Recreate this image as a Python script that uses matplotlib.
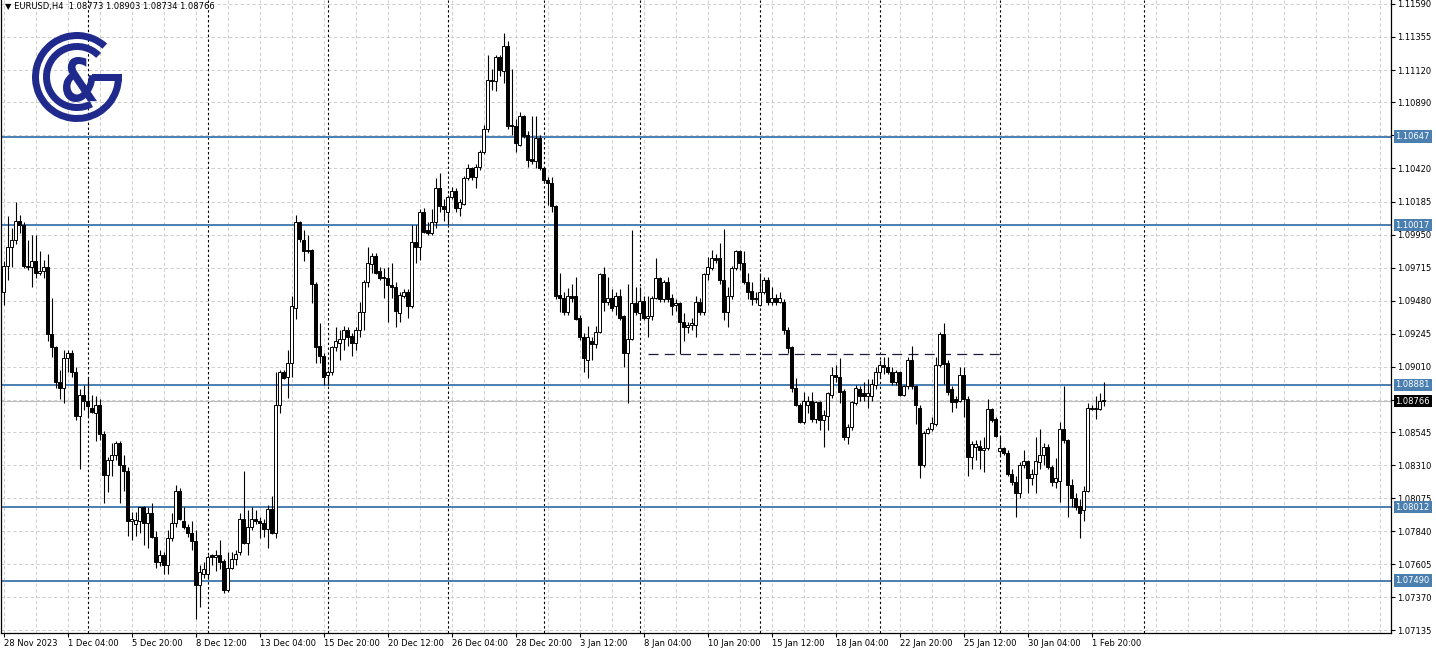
import matplotlib
matplotlib.use("Agg")
import matplotlib.pyplot as plt
import matplotlib.transforms as mtransforms
from matplotlib.patches import Wedge, Rectangle, PathPatch
from matplotlib.textpath import TextPath
from matplotlib.font_manager import FontProperties
from matplotlib.transforms import Affine2D

# EURUSD H4, 28 Nov 2023 12:00 .. 2 Feb 2024 08:00 (one entry per bar)
opens = [
    1.0954, 1.0973, 1.0986, 1.0991, 1.1005, 1.1002, 1.0973, 1.0972, 1.0976, 1.0968,
    1.0969, 1.0972, 1.0924, 1.0915, 1.0890, 1.0886, 1.0907, 1.0911, 1.0897, 1.0866,
    1.0881, 1.0877, 1.0872, 1.0868, 1.0874, 1.0853, 1.0824, 1.0835, 1.0838, 1.0847,
    1.0831, 1.0827, 1.0791, 1.0789, 1.0791, 1.0801, 1.0790, 1.0797, 1.0780, 1.0762,
    1.0767, 1.0760, 1.0779, 1.0790, 1.0813, 1.0791, 1.0787, 1.0783, 1.0777, 1.0746,
    1.0754, 1.0754, 1.0767, 1.0766, 1.0767, 1.0763, 1.0742, 1.0758, 1.0764, 1.0769,
    1.0793, 1.0776, 1.0787, 1.0793, 1.0791, 1.0790, 1.0786, 1.0800, 1.0783, 1.0874,
    1.0897, 1.0894, 1.0904, 1.0943, 1.1004, 1.0991, 1.0984, 1.0984, 1.0960, 1.0916,
    1.0909, 1.0895, 1.0897, 1.0915, 1.0918, 1.0921, 1.0927, 1.0923, 1.0918, 1.0927,
    1.0940, 1.0961, 1.0974, 1.0980, 1.0969, 1.0965, 1.0964, 1.0959, 1.0958, 1.0939,
    1.0951, 1.0954, 1.0944, 1.0990, 1.0986, 1.1011, 1.0998, 1.0996, 1.1004, 1.1028,
    1.1015, 1.1011, 1.1022, 1.1026, 1.1014, 1.1017, 1.1035, 1.1042, 1.1036, 1.1043,
    1.1054, 1.1070, 1.1105, 1.1104, 1.1121, 1.1111, 1.1129, 1.1073, 1.1072, 1.1059,
    1.1079, 1.1066, 1.1049, 1.1047, 1.1064, 1.1042, 1.1034, 1.1032, 1.1015, 1.0952,
    1.0950, 1.0940, 1.0951, 1.0951, 1.0936, 1.0922, 1.0906, 1.0919, 1.0917, 1.0926,
    1.0967, 1.0947, 1.0950, 1.0944, 1.0951, 1.0937, 1.0911, 1.0921, 1.0946, 1.0939,
    1.0948, 1.0936, 1.0937, 1.0950, 1.0964, 1.0949, 1.0961, 1.0950, 1.0945, 1.0946,
    1.0933, 1.0929, 1.0931, 1.0931, 1.0947, 1.0940, 1.0967, 1.0971, 1.0978, 1.0978,
    1.0963, 1.0940, 1.0951, 1.0971, 1.0983, 1.0975, 1.0961, 1.0955, 1.0950, 1.0945,
    1.0954, 1.0963, 1.0947, 1.0950, 1.0947, 1.0947, 1.0927, 1.0915, 1.0886, 1.0874,
    1.0862, 1.0874, 1.0877, 1.0864, 1.0876, 1.0863, 1.0866, 1.0881, 1.0895, 1.0894,
    1.0884, 1.0851, 1.0858, 1.0875, 1.0885, 1.0882, 1.0880, 1.0880, 1.0888, 1.0897,
    1.0902, 1.0901, 1.0897, 1.0890, 1.0897, 1.0881, 1.0887, 1.0906, 1.0887, 1.0872,
    1.0831, 1.0854, 1.0857, 1.0860, 1.0902, 1.0924, 1.0904, 1.0885, 1.0878, 1.0877,
    1.0895, 1.0878, 1.0837, 1.0844, 1.0845, 1.0842, 1.0843, 1.0871, 1.0864, 1.0841,
    1.0843, 1.0840, 1.0825, 1.0819, 1.0811, 1.0831, 1.0834, 1.0822, 1.0825, 1.0833,
    1.0838, 1.0844, 1.0830, 1.0819, 1.0820, 1.0857, 1.0849, 1.0817, 1.0808, 1.0802,
    1.0799, 1.0813, 1.0872, 1.0871, 1.0871, 1.08773,
]
highs = [
    1.0976, 1.1008, 1.1000, 1.1018, 1.1009, 1.1004, 1.0991, 1.0995, 1.0995, 1.0983,
    1.0977, 1.0981, 1.0950, 1.0916, 1.0899, 1.0913, 1.0913, 1.0913, 1.0901, 1.0885,
    1.0888, 1.0894, 1.0881, 1.0880, 1.0878, 1.0855, 1.0837, 1.0847, 1.0848, 1.0848,
    1.0838, 1.0830, 1.0798, 1.0798, 1.0801, 1.0802, 1.0801, 1.0804, 1.0784, 1.0771,
    1.0769, 1.0785, 1.0797, 1.0817, 1.0815, 1.0801, 1.0789, 1.0791, 1.0785, 1.0760,
    1.0762, 1.0767, 1.0768, 1.0771, 1.0778, 1.0764, 1.0769, 1.0769, 1.0771, 1.0797,
    1.0827, 1.0799, 1.0801, 1.0799, 1.0794, 1.0793, 1.0803, 1.0809, 1.0897, 1.0899,
    1.0899, 1.0913, 1.0951, 1.1009, 1.1005, 1.0998, 1.0995, 1.0985, 1.0961, 1.0932,
    1.0911, 1.0899, 1.0916, 1.0929, 1.0927, 1.0930, 1.0929, 1.0925, 1.0929, 1.0947,
    1.0963, 1.0986, 1.0982, 1.0982, 1.0972, 1.0971, 1.0972, 1.0975, 1.0961, 1.0954,
    1.0956, 1.0956, 1.1002, 1.1002, 1.1013, 1.1014, 1.1004, 1.1013, 1.1035, 1.1039,
    1.1020, 1.1023, 1.1029, 1.1028, 1.1020, 1.1037, 1.1045, 1.1043, 1.1045, 1.1055,
    1.1073, 1.1123, 1.1113, 1.1123, 1.1123, 1.1138, 1.1133, 1.1113, 1.1077, 1.1082,
    1.1080, 1.1069, 1.1079, 1.1079, 1.1066, 1.1043, 1.1036, 1.1036, 1.1016, 1.0968,
    1.0954, 1.0957, 1.0960, 1.0965, 1.0938, 1.0925, 1.0930, 1.0922, 1.0930, 1.0968,
    1.0972, 1.0965, 1.0956, 1.0954, 1.0956, 1.0938, 1.0960, 1.0998, 1.0958, 1.0958,
    1.0951, 1.0951, 1.0951, 1.0978, 1.0965, 1.0963, 1.0965, 1.0953, 1.0949, 1.0947,
    1.0939, 1.0933, 1.0936, 1.0951, 1.0950, 1.0968, 1.0979, 1.0984, 1.0981, 1.0989,
    1.0999, 1.0958, 1.0973, 1.0984, 1.0984, 1.0983, 1.0968, 1.0961, 1.0954, 1.0968,
    1.0965, 1.0965, 1.0958, 1.0953, 1.0954, 1.0949, 1.0929, 1.0916, 1.0893, 1.0875,
    1.0883, 1.0880, 1.0883, 1.0877, 1.0877, 1.0870, 1.0883, 1.0901, 1.0902, 1.0907,
    1.0885, 1.0860, 1.0877, 1.0888, 1.0887, 1.0890, 1.0892, 1.0892, 1.0901, 1.0906,
    1.0908, 1.0908, 1.0901, 1.0899, 1.0898, 1.0888, 1.0908, 1.0916, 1.0888, 1.0874,
    1.0855, 1.0858, 1.0865, 1.0908, 1.0926, 1.0932, 1.0906, 1.0887, 1.0880, 1.0901,
    1.0901, 1.0880, 1.0848, 1.0849, 1.0849, 1.0851, 1.0878, 1.0872, 1.0865, 1.0851,
    1.0844, 1.0842, 1.0828, 1.0823, 1.0833, 1.0842, 1.0835, 1.0828, 1.0851, 1.0857,
    1.0847, 1.0846, 1.0831, 1.0836, 1.0862, 1.0887, 1.0850, 1.0821, 1.0811, 1.0807,
    1.0816, 1.0875, 1.0874, 1.0880, 1.0882, 1.08903,
]
lows = [
    1.0945, 1.0963, 1.0972, 1.0988, 1.0996, 1.0971, 1.0970, 1.0958, 1.0964, 1.0966,
    1.0964, 1.0919, 1.0908, 1.0886, 1.0878, 1.0875, 1.0897, 1.0894, 1.0863, 1.0828,
    1.0870, 1.0865, 1.0868, 1.0848, 1.0849, 1.0804, 1.0812, 1.0823, 1.0835, 1.0804,
    1.0813, 1.0781, 1.0778, 1.0781, 1.0783, 1.0774, 1.0772, 1.0779, 1.0758, 1.0759,
    1.0754, 1.0754, 1.0777, 1.0787, 1.0792, 1.0786, 1.0780, 1.0771, 1.0722, 1.0730,
    1.0751, 1.0751, 1.0760, 1.0756, 1.0757, 1.0740, 1.0741, 1.0757, 1.0760, 1.0767,
    1.0775, 1.0767, 1.0785, 1.0789, 1.0779, 1.0780, 1.0772, 1.0782, 1.0779, 1.0868,
    1.0892, 1.0879, 1.0894, 1.0935, 1.0990, 1.0976, 1.0982, 1.0946, 1.0904, 1.0904,
    1.0888, 1.0888, 1.0895, 1.0912, 1.0906, 1.0913, 1.0916, 1.0909, 1.0913, 1.0922,
    1.0927, 1.0958, 1.0968, 1.0967, 1.0963, 1.0950, 1.0933, 1.0950, 1.0929, 1.0933,
    1.0950, 1.0936, 1.0943, 1.0975, 1.0977, 1.0996, 1.0995, 1.0995, 1.1000, 1.1011,
    1.1005, 1.1002, 1.1020, 1.1011, 1.1008, 1.1016, 1.1034, 1.1034, 1.1028, 1.1041,
    1.1052, 1.1068, 1.1098, 1.1097, 1.1108, 1.1103, 1.1070, 1.1066, 1.1054, 1.1058,
    1.1064, 1.1043, 1.1045, 1.1042, 1.1041, 1.1032, 1.1016, 1.1011, 1.0949, 1.0940,
    1.0938, 1.0938, 1.0947, 1.0934, 1.0920, 1.0897, 1.0893, 1.0906, 1.0914, 1.0925,
    1.0941, 1.0945, 1.0941, 1.0938, 1.0934, 1.0901, 1.0875, 1.0920, 1.0938, 1.0934,
    1.0934, 1.0922, 1.0934, 1.0949, 1.0947, 1.0947, 1.0947, 1.0938, 1.0941, 1.0910,
    1.0919, 1.0925, 1.0927, 1.0922, 1.0938, 1.0938, 1.0963, 1.0970, 1.0975, 1.0960,
    1.0934, 1.0929, 1.0949, 1.0970, 1.0970, 1.0960, 1.0949, 1.0945, 1.0946, 1.0944,
    1.0953, 1.0945, 1.0945, 1.0945, 1.0946, 1.0924, 1.0911, 1.0883, 1.0873, 1.0861,
    1.0860, 1.0868, 1.0862, 1.0861, 1.0856, 1.0844, 1.0856, 1.0879, 1.0890, 1.0875,
    1.0849, 1.0846, 1.0856, 1.0874, 1.0877, 1.0877, 1.0872, 1.0877, 1.0885, 1.0893,
    1.0896, 1.0896, 1.0888, 1.0888, 1.0880, 1.0880, 1.0885, 1.0885, 1.0860, 1.0822,
    1.0830, 1.0853, 1.0855, 1.0859, 1.0901, 1.0889, 1.0881, 1.0869, 1.0872, 1.0876,
    1.0865, 1.0823, 1.0828, 1.0835, 1.0828, 1.0826, 1.0842, 1.0862, 1.0851, 1.0838,
    1.0838, 1.0823, 1.0817, 1.0794, 1.0808, 1.0829, 1.0811, 1.0817, 1.0811, 1.0828,
    1.0831, 1.0828, 1.0816, 1.0815, 1.0805, 1.0847, 1.0794, 1.0801, 1.0799, 1.0779,
    1.0791, 1.0812, 1.0870, 1.0864, 1.0870, 1.08734,
]
closes = [
    1.0973, 1.0986, 1.0991, 1.1005, 1.1002, 1.0973, 1.0972, 1.0976, 1.0968, 1.0969,
    1.0972, 1.0924, 1.0915, 1.0890, 1.0886, 1.0907, 1.0911, 1.0897, 1.0866, 1.0881,
    1.0877, 1.0873, 1.0869, 1.0874, 1.0853, 1.0824, 1.0835, 1.0838, 1.0847, 1.0831,
    1.0827, 1.0791, 1.0793, 1.0792, 1.0801, 1.0790, 1.0797, 1.0780, 1.0762, 1.0767,
    1.0760, 1.0779, 1.0790, 1.0813, 1.0793, 1.0787, 1.0783, 1.0777, 1.0746, 1.0755,
    1.0757, 1.0766, 1.0766, 1.0767, 1.0762, 1.0742, 1.0758, 1.0764, 1.0768, 1.0793,
    1.0776, 1.0787, 1.0793, 1.0791, 1.0790, 1.0786, 1.0800, 1.0783, 1.0874, 1.0897,
    1.0893, 1.0904, 1.0944, 1.1004, 1.0992, 1.0983, 1.0983, 1.0960, 1.0915, 1.0909,
    1.0894, 1.0897, 1.0915, 1.0919, 1.0921, 1.0927, 1.0922, 1.0918, 1.0927, 1.0940,
    1.0961, 1.0975, 1.0980, 1.0968, 1.0964, 1.0964, 1.0959, 1.0958, 1.0941, 1.0952,
    1.0954, 1.0944, 1.0990, 1.0986, 1.1011, 1.0997, 1.0996, 1.1004, 1.1028, 1.1015,
    1.1013, 1.1022, 1.1026, 1.1014, 1.1018, 1.1035, 1.1042, 1.1036, 1.1043, 1.1054,
    1.1070, 1.1105, 1.1104, 1.1121, 1.1112, 1.1129, 1.1072, 1.1072, 1.1060, 1.1079,
    1.1065, 1.1048, 1.1047, 1.1064, 1.1042, 1.1034, 1.1032, 1.1015, 1.0951, 1.0950,
    1.0940, 1.0951, 1.0950, 1.0935, 1.0922, 1.0907, 1.0922, 1.0917, 1.0926, 1.0967,
    1.0947, 1.0950, 1.0943, 1.0951, 1.0936, 1.0911, 1.0921, 1.0946, 1.0940, 1.0948,
    1.0936, 1.0937, 1.0950, 1.0964, 1.0949, 1.0961, 1.0949, 1.0944, 1.0946, 1.0933,
    1.0929, 1.0931, 1.0932, 1.0947, 1.0940, 1.0967, 1.0972, 1.0978, 1.0977, 1.0963,
    1.0940, 1.0951, 1.0971, 1.0983, 1.0975, 1.0961, 1.0954, 1.0949, 1.0949, 1.0954,
    1.0963, 1.0947, 1.0950, 1.0947, 1.0950, 1.0927, 1.0914, 1.0886, 1.0874, 1.0862,
    1.0877, 1.0877, 1.0864, 1.0876, 1.0863, 1.0867, 1.0882, 1.0895, 1.0894, 1.0883,
    1.0851, 1.0858, 1.0876, 1.0886, 1.0880, 1.0880, 1.0882, 1.0889, 1.0897, 1.0902,
    1.0901, 1.0897, 1.0890, 1.0897, 1.0881, 1.0887, 1.0906, 1.0887, 1.0874, 1.0831,
    1.0854, 1.0857, 1.0861, 1.0902, 1.0924, 1.0903, 1.0883, 1.0876, 1.0876, 1.0895,
    1.0878, 1.0837, 1.0846, 1.0846, 1.0842, 1.0843, 1.0871, 1.0863, 1.0852, 1.0843,
    1.0840, 1.0825, 1.0819, 1.0811, 1.0831, 1.0834, 1.0822, 1.0825, 1.0834, 1.0838,
    1.0844, 1.0830, 1.0819, 1.0822, 1.0857, 1.0849, 1.0817, 1.0808, 1.0801, 1.0797,
    1.0813, 1.0872, 1.0871, 1.0872, 1.0877, 1.08766,
]

# axis labels every 16 bars
time_labels = ["28 Nov 2023", "1 Dec 04:00", "5 Dec 20:00", "8 Dec 12:00", "13 Dec 04:00",
               "15 Dec 20:00", "20 Dec 12:00", "26 Dec 04:00", "28 Dec 20:00", "3 Jan 12:00",
               "8 Jan 04:00", "10 Jan 20:00", "15 Jan 12:00", "18 Jan 04:00", "22 Jan 20:00",
               "25 Jan 12:00", "30 Jan 04:00", "1 Feb 20:00"]
price_ticks = [1.11590, 1.11355, 1.11120, 1.10890, 1.10655, 1.10420, 1.10185, 1.09950,
               1.09715, 1.09480, 1.09245, 1.09010, 1.08775, 1.08545, 1.08310, 1.08075,
               1.07840, 1.07605, 1.07370, 1.07135]
levels = [1.10647, 1.10017, 1.08881, 1.08012, 1.07490]
last_price = 1.08766
range_level = 1.0910
range_start, range_end = 161, 249.2
week_starts = [21, 51, 81, 111, 135, 159, 189, 219, 249, 285]

W, H = 1436, 655
LEVEL_BLUE = "#4a7fb0"
NAVY = "#1f2a8c"

fig = plt.figure(figsize=(W / 100, H / 100), dpi=100)
ax = fig.add_axes([0.5 / W, 22 / H, 1390 / W, 633 / H])
ax.set_xlim(-0.75, 346.75)
ax.set_ylim(1.07117, 1.11618)

# grid
for p in price_ticks:
    ax.axhline(p, color="#c6c6c6", lw=0.6, ls=(0, (4, 3)), zorder=0)
for gx in range(0, 347, 8):
    ax.axvline(gx, color="#c6c6c6", lw=0.6, ls=(0, (4, 3)), zorder=0)
for wx in week_starts:
    ax.axvline(wx, color="black", lw=0.8, ls=(0, (2.2, 2.2)), zorder=1)

for lv in levels:
    ax.axhline(lv, color=LEVEL_BLUE, lw=1.4, zorder=2)
ax.axhline(last_price, color="#bdbdbd", lw=0.8, zorder=1)
ax.plot([range_start, range_end], [range_level, range_level], color="#1c1c3a",
        lw=0.9, ls=(0, (8, 5)), zorder=2)

# candles
n = len(closes)
xs = list(range(n))
ax.vlines(xs, lows, highs, color="black", lw=0.8, zorder=3)
bottoms = [min(o, c) for o, c in zip(opens, closes)]
heights = [abs(c - o) for o, c in zip(opens, closes)]
faces = ["white" if c >= o else "black" for o, c in zip(opens, closes)]
ax.bar(xs, heights, bottom=bottoms, width=0.55, color=faces, edgecolor="black",
       linewidth=0.7, zorder=4)

# axes look
for s in ["top"]:
    ax.spines[s].set_visible(False)
for s in ["left", "right", "bottom"]:
    ax.spines[s].set_color("black")
    ax.spines[s].set_linewidth(0.9)

ax.yaxis.tick_right()
ax.set_yticks(price_ticks)
ax.set_yticklabels(["" if p in (1.10655, 1.08775) else f"{p:.5f}" for p in price_ticks])
ax.tick_params(axis="y", direction="out", length=3, width=0.8, labelsize=6, pad=2)

ax.set_xticks(list(range(0, 16 * len(time_labels), 16)))
ax.set_xticklabels(time_labels, ha="left")
ax.tick_params(axis="x", direction="out", length=3, width=0.8, labelsize=6, pad=1.5)

# price boxes on the right scale
trans = mtransforms.blended_transform_factory(ax.transAxes, ax.transData)
for lv in levels:
    ax.text(1.0 + 5 / 1390, lv, f"{lv:.5f}", transform=trans, ha="left", va="center",
            fontsize=6, color="white", zorder=6, clip_on=False,
            bbox=dict(boxstyle="square,pad=0.22", fc=LEVEL_BLUE, ec="none"))
ax.text(1.0 + 5 / 1390, last_price, f"{last_price:.5f}", transform=trans, ha="left",
        va="center", fontsize=6, color="white", zorder=6, clip_on=False,
        bbox=dict(boxstyle="square,pad=0.22", fc="black", ec="none"))

# header
fig.text(5 / W, 1 - 7 / H, "\u25bc EURUSD,H4  1.08773 1.08903 1.08734 1.08766",
         fontsize=6, va="center", ha="left")

# logo
lax = fig.add_axes([25 / W, 1 - 130 / H, 105 / W, 105 / H])
lax.set_xlim(25, 130)
lax.set_ylim(130, 25)
lax.axis("off")
lax.add_patch(Wedge((77, 77), 45, 0, 312, width=7, color=NAVY, lw=0))
lax.add_patch(Wedge((77, 77), 34, 62, 315, width=7, color=NAVY, lw=0))
lax.add_patch(Rectangle((92, 74), 30, 7, color=NAVY, lw=0))
tp = TextPath((0, 0), "&", size=1, prop=FontProperties(family="DejaVu Sans", weight="bold"))
bb = tp.get_extents()
tr = Affine2D().translate(-bb.x0, -bb.y0).scale(34 / bb.width, -45 / bb.height).translate(63, 102)
lax.add_patch(PathPatch(tr.transform_path(tp), color=NAVY, lw=0))

fig.savefig("out.png", dpi=100)
